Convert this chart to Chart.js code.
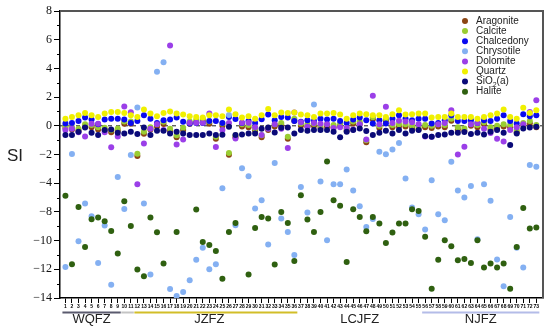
<!DOCTYPE html>
<html lang="en">
<head>
  <meta charset="UTF-8">
  <title>SI by sample</title>
  <script src="https://cdn.jsdelivr.net/npm/chart.js"></script>
  <style>
    body { margin: 0; background: #fff; }
    #wrap { width: 550px; height: 330px; }
  </style>
</head>
<body>
  <div id="wrap"><canvas id="siChart" width="550" height="330"></canvas></div>

  <script>
    // sample numbers 1..73
    const samples = [1,2,3,4,5,6,7,8,9,10,11,12,13,14,15,16,17,18,19,20,21,22,23,24,25,26,27,28,29,30,31,32,33,34,35,36,37,38,39,40,41,42,43,44,45,46,47,48,49,50,51,52,53,54,55,56,57,58,59,60,61,62,63,64,65,66,67,68,69,70,71,72,73];

    const aragonite = [-0.15,-0.25,-0.35,-0.05,-0.1,-0.25,-0.3,-0.45,-0.35,0.15,0.15,-2.1,-0.55,-0.25,-0.05,0.13,-0.35,-0.8,-0.3,0.15,0.25,0.35,0.15,-0.9,0.0,-2.02,-0.8,-0.05,-0.1,-0.35,-0.8,-0.3,-0.05,0.05,-0.9,0.35,0.0,-0.05,0.0,-0.15,-0.05,-0.1,0.0,-0.35,0.15,0.13,-1.15,0.45,-0.15,0.35,-0.1,-0.05,-0.05,-0.15,-0.25,-0.1,-0.15,-0.05,-0.1,0.35,-0.25,-0.35,0.0,-0.1,0.1,-0.25,-0.15,-0.05,-0.1,-0.45,0.05,0.18,-0.1];
    const calcite = [0.0,-0.1,-0.2,0.1,0.05,-0.1,-0.14,-0.3,-0.19,0.3,0.3,-1.95,-0.42,-0.1,0.1,0.28,-0.2,-0.65,-0.14,0.3,0.4,0.5,0.3,-0.77,0.16,-1.9,-0.65,0.1,0.05,-0.19,-0.65,-0.14,0.1,0.2,-0.77,0.5,0.16,0.1,0.15,0.0,0.1,0.05,0.15,-0.19,0.3,0.28,-1.0,0.6,0.0,0.5,0.05,0.1,0.1,0.0,-0.1,0.05,0.0,0.1,0.05,0.5,-0.1,-0.19,0.15,0.05,0.25,-0.1,0.0,0.1,0.05,-0.3,0.2,0.33,0.05];
    const chalcedony = [0.16,0.2,0.34,0.57,0.44,0.1,0.44,0.5,0.5,0.44,0.2,0.34,0.74,0.5,0.2,0.39,0.44,0.57,0.28,0.16,0.2,0.2,0.34,0.34,0.2,0.62,0.48,0.2,0.34,0.2,0.46,0.78,0.39,0.62,0.57,0.34,0.28,0.39,0.34,0.5,0.44,0.5,0.34,0.2,0.44,0.57,0.39,0.16,0.39,0.16,0.5,0.74,0.5,0.39,0.5,0.5,0.16,0.2,0.39,0.74,0.34,0.34,0.39,0.2,0.39,0.34,0.5,0.74,0.34,0.16,0.8,0.67,0.74];
    const chrysotile = [-9.84,-1.97,-8.05,-5.42,-6.3,-9.56,-6.95,-11.07,-3.56,-5.8,-2.04,1.28,-5.42,-10.37,3.77,4.42,-11.37,-11.86,-11.58,-10.77,-9.33,-8.5,-10.0,-9.65,-4.35,0.75,-6.93,-2.95,-3.51,-5.77,-5.19,-8.28,-2.6,-6.46,-7.4,-9.0,-4.26,-6.04,1.49,-3.88,-7.98,-4.07,-4.07,-3.04,-4.51,-5.6,-7.05,-6.5,-1.81,-1.98,-1.65,-1.19,-3.67,-5.69,-6.16,-7.23,-3.79,-6.16,-6.58,-2.5,-4.5,-5.0,-4.19,-7.9,-4.07,-5.23,-9.32,-11.18,-6.35,-8.5,-9.88,-2.74,-2.86];
    const dolomite = [-0.3,-0.2,-0.45,-0.75,0.15,0.15,-0.45,-1.5,-0.75,1.35,0.95,-4.07,-1.23,-0.2,0.1,-0.3,5.6,-1.3,-0.95,0.22,0.22,0.22,0.85,-1.47,-0.3,0.2,-0.88,0.22,0.22,-0.1,-0.64,-0.2,0.1,-0.2,-1.55,0.92,0.25,-0.07,0.2,0.15,0.1,-0.15,-0.1,-0.15,-0.25,0.1,-0.95,2.1,0.1,1.32,0.2,0.35,0.3,0.25,0.1,-0.74,-0.76,0.1,0.2,1.08,-2.0,-1.46,0.1,0.2,-0.2,-0.5,-0.9,-1.1,-0.3,-0.1,0.1,0.97,1.78];
    const quartz = [0.5,0.62,0.74,0.9,0.74,0.62,0.85,0.97,0.97,0.9,0.74,0.62,1.13,0.85,0.67,0.9,1.0,0.85,0.78,0.67,0.62,0.57,0.74,0.74,0.67,1.13,0.8,0.57,0.67,0.5,0.74,1.17,0.74,0.92,0.9,0.92,0.78,0.74,0.62,0.85,0.85,0.9,0.78,0.5,0.74,0.85,0.8,0.74,0.74,0.62,0.8,1.08,0.78,0.8,0.85,0.85,0.57,0.62,0.62,0.85,0.62,0.62,0.62,0.5,0.62,0.74,0.85,1.13,0.62,0.5,1.26,0.9,1.08];
    const sio2a = [-0.64,-0.64,-0.41,-0.11,-0.48,-0.64,-0.3,-0.25,-0.48,-0.53,-0.41,-0.57,-0.11,-0.64,-0.34,-0.34,-0.53,-0.41,-0.53,-0.64,-0.64,-0.64,-0.53,-0.64,-0.62,-0.07,-0.64,-0.6,-0.53,-0.53,-0.2,-0.11,-0.46,-0.14,-0.11,-0.53,-0.3,-0.34,-0.3,-0.3,-0.3,-0.41,-0.8,-0.41,-0.3,-0.18,-0.37,-0.64,-0.48,-0.34,-0.53,-0.3,-0.53,-0.34,-0.3,-0.71,-0.76,-0.64,-0.6,-0.48,-0.48,-0.44,-0.57,-0.48,-0.6,-0.41,-0.3,-0.48,-1.33,-0.53,-0.18,-0.11,-0.07];
    const halite = [-4.88,-9.65,-5.65,-8.44,-6.51,-6.39,-6.65,-7.33,-8.9,-5.25,-6.98,-10.02,-10.49,-6.39,-7.42,-9.6,null,-7.4,null,null,-5.83,-8.09,-8.3,-8.72,-10.65,-7.4,-6.77,null,-10.37,-7.12,-6.35,-6.46,-9.67,-6.0,-6.77,-9.42,-4.84,-6.53,-7.4,-6.0,-2.48,-5.19,-5.58,-9.49,-5.81,-6.35,-7.35,-6.35,-6.81,-8.16,-7.44,-6.81,-6.81,-5.81,-5.93,-7.74,-11.35,-9.33,-7.98,-8.4,-9.37,-9.28,-9.56,-7.98,-9.88,-9.6,-9.88,-9.6,-11.35,-8.44,-5.72,-7.16,-7.09];

    // y positions run 8 .. -12, labelled as in the source figure (no -6 label)
    const yTickLabels = ['8','6','4','2','0','\u22122','\u22124','\u22128','\u221210','\u221212','\u221214'];

    const groupNames = ['WQFZ', 'JZFZ', 'LCJFZ', 'NJFZ'];
    const groupCenters = [5, 23, 46, 64.5];

    const seriesNames = ['Aragonite', 'Calcite', 'Chalcedony', 'Chrysotile', 'Dolomite', 'Quartz', 'SiO2(a)', 'Halite'];
    const seriesData = [aragonite, calcite, chalcedony, chrysotile, dolomite, quartz, sio2a, halite];
    const colors = ['#8B4513', '#9ACD32', '#0A0AF0', '#84B0F2', '#9B3FE8', '#F0F000', '#0A0A78', '#2F6010'];

    const datasets = seriesData.map((vals, i) => ({
      label: seriesNames[i],
      data: samples.map((s, k) => ({ x: s, y: vals[k] })).filter(p => p.y !== null),
      backgroundColor: colors[i],
      borderWidth: 0,
      pointRadius: 3,
      order: 8 - i
    }));

    // dashed zero line, minor ticks, frame, legend, group labels
    const decor = {
      id: 'decor',
      beforeDatasetsDraw(chart) {
        const { ctx, chartArea: a, scales: { y } } = chart;
        const y0 = y.getPixelForValue(0);
        ctx.save();
        ctx.strokeStyle = '#222';
        ctx.lineWidth = 1;
        ctx.setLineDash([4, 4]);
        ctx.beginPath();
        ctx.moveTo(a.left, y0);
        ctx.lineTo(a.right, y0);
        ctx.stroke();
        ctx.restore();
      },
      afterDraw(chart) {
        const { ctx, chartArea: a, scales: { x, y } } = chart;
        ctx.save();
        // minor y ticks
        ctx.strokeStyle = '#000';
        ctx.lineWidth = 1;
        for (let v = -11; v <= 7; v += 2) {
          const py = Math.round(y.getPixelForValue(v)) + 0.5;
          ctx.beginPath();
          ctx.moveTo(a.left - 3, py);
          ctx.lineTo(a.left, py);
          ctx.stroke();
        }
        // top and right frame
        ctx.strokeStyle = '#555';
        ctx.lineWidth = 2;
        ctx.beginPath();
        ctx.moveTo(a.left, a.top);
        ctx.lineTo(a.right, a.top);
        ctx.lineTo(a.right, a.bottom);
        ctx.stroke();

        // group underlines
        const segs = [[1, 9, '#5a5a6e'], [10, 11, '#c4c4c4'], [12, 36, '#d2be28'], [56, 73, '#b4bce8']];
        ctx.lineWidth = 2;
        segs.forEach(([f, t, c]) => {
          ctx.strokeStyle = c;
          ctx.beginPath();
          ctx.moveTo(x.getPixelForValue(f) - 3, 312.5);
          ctx.lineTo(x.getPixelForValue(t) + 3, 312.5);
          ctx.stroke();
        });
        ctx.fillStyle = '#222';
        ctx.font = '13px "Liberation Sans", Arial, sans-serif';
        ctx.textAlign = 'center';
        ctx.textBaseline = 'middle';
        groupNames.forEach((g, i) => ctx.fillText(g, x.getPixelForValue(groupCenters[i]), 319));

        // axis title
        ctx.font = '17px "Liberation Sans", Arial, sans-serif';
        ctx.textAlign = 'left';
        ctx.fillText('SI', 7, 156);

        // legend
        ctx.font = '10px "Liberation Sans", Arial, sans-serif';
        seriesNames.forEach((n, i) => {
          const ly = 21 + i * 10.1;
          ctx.fillStyle = colors[i];
          ctx.beginPath();
          ctx.arc(465, ly, 3, 0, Math.PI * 2);
          ctx.fill();
          ctx.fillStyle = '#222';
          if (n === 'SiO2(a)') {
            ctx.fillText('SiO', 476, ly);
            let w = ctx.measureText('SiO').width;
            ctx.font = '7px "Liberation Sans", Arial, sans-serif';
            ctx.fillText('2', 476 + w, ly + 3);
            const w2 = ctx.measureText('2').width;
            ctx.font = '10px "Liberation Sans", Arial, sans-serif';
            ctx.fillText('(a)', 476 + w + w2, ly);
          } else {
            ctx.fillText(n, 476, ly);
          }
        });
        ctx.restore();
      }
    };

    new Chart(document.getElementById('siChart'), {
      type: 'scatter',
      data: { datasets: datasets },
      options: {
        responsive: false,
        animation: false,
        layout: { padding: { top: 11, right: 7, left: 0, bottom: 0 } },
        plugins: { legend: { display: false }, tooltip: { enabled: false } },
        scales: {
          x: {
            type: 'linear',
            min: 0.17,
            max: 74.02,
            afterFit: s => { s.height = 32; },
            afterBuildTicks: s => { s.ticks = samples.map(v => ({ value: v })); },
            ticks: {
              autoSkip: false,
              maxRotation: 0,
              padding: 1,
              color: '#000',
              font: { size: 5, weight: 'bold', family: 'Arial' },
              callback: v => String(v)
            },
            grid: { drawOnChartArea: false, tickLength: 5, color: '#000' },
            border: { color: '#000', width: 1.5 }
          },
          y: {
            min: -12,
            max: 8,
            afterFit: s => { s.width = 60; },
            ticks: {
              stepSize: 2,
              padding: 2,
              color: '#111',
              font: { size: 12, family: '"Liberation Serif", serif' },
              callback: v => yTickLabels[(8 - v) / 2]
            },
            grid: { drawOnChartArea: false, tickLength: 6, color: '#000' },
            border: { color: '#000', width: 1.5 }
          }
        }
      },
      plugins: [decor]
    });
  </script>
</body>
</html>
